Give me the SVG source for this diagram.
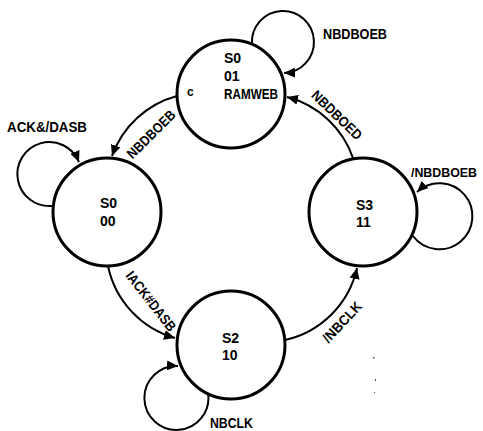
<svg xmlns="http://www.w3.org/2000/svg" width="483" height="431" viewBox="0 0 483 431">
<style>
.st{fill:#fff;stroke:#000;stroke-width:3}
.cn{fill:none;stroke:#000;stroke-width:2}
text{font-family:"Liberation Sans",Arial,sans-serif;font-weight:bold;font-size:14px;fill:#000}
.sm{font-size:12px}
</style>
<defs>
<marker id="ah" markerUnits="userSpaceOnUse" markerWidth="12" markerHeight="10" refX="11" refY="5" orient="auto">
<path d="M0,0 L11,5 L0,10 z" fill="#000"/>
</marker>
</defs>
<rect width="483" height="431" fill="#fff"/>
<g id="connectors">
<path class="cn" d="M252,44 A31,31 0 1 1 284,73" marker-end="url(#ah)"/>
<path class="cn" d="M52,206 A32,32 0 1 1 79,162" marker-end="url(#ah)"/>
<path class="cn" d="M413,236 A33,33 0 1 0 417,192" marker-end="url(#ah)"/>
<path class="cn" d="M208,393 A32,32 0 1 1 178,366" marker-end="url(#ah)"/>
<path class="cn" d="M177,96 A95,95 0 0 0 112,156" marker-end="url(#ah)"/>
<path class="cn" d="M108,266 A95,95 0 0 0 175,338" marker-end="url(#ah)"/>
<path class="cn" d="M285,340 A95,95 0 0 0 357,268" marker-end="url(#ah)"/>
<path class="cn" d="M353,158 A95,95 0 0 0 287,97" marker-end="url(#ah)"/>
<text x="323" y="39" textLength="64" lengthAdjust="spacingAndGlyphs">NBDBOEB</text>
<text x="7" y="132" textLength="80" lengthAdjust="spacingAndGlyphs">ACK&amp;/DASB</text>
<text x="411" y="177" style="font-size:13px" textLength="66" lengthAdjust="spacingAndGlyphs">/NBDBOEB</text>
<text x="210" y="428" textLength="43" lengthAdjust="spacingAndGlyphs">NBCLK</text>
<text transform="translate(151,134) rotate(-45)" x="0" y="5" text-anchor="middle" textLength="62" lengthAdjust="spacingAndGlyphs">NBDBOEB</text>
<text transform="translate(151,301) rotate(52)" x="0" y="5" text-anchor="middle" textLength="72" lengthAdjust="spacingAndGlyphs">IACK#DASB</text>
<text transform="translate(342,322) rotate(-47)" x="0" y="5" text-anchor="middle" textLength="50" lengthAdjust="spacingAndGlyphs">/NBCLK</text>
<text transform="translate(337,115) rotate(44)" x="0" y="5" text-anchor="middle" textLength="64" lengthAdjust="spacingAndGlyphs">NBDBOED</text>
</g>
<g id="s0_01">
<circle class="st" cx="231" cy="94" r="54"/>
<text x="224" y="63">S0</text>
<text x="224" y="81">01</text>
<text x="224" y="99" textLength="54" lengthAdjust="spacingAndGlyphs">RAMWEB</text>
<text class="sm" x="187" y="96">c</text>
</g>
<g id="s0_00">
<circle class="st" cx="107" cy="212" r="54"/>
<text x="100" y="208">S0</text>
<text x="100" y="226">00</text>
</g>
<g id="s3_11">
<circle class="st" cx="363" cy="212" r="54"/>
<text x="356" y="210">S3</text>
<text x="356" y="227">11</text>
</g>
<g id="s2_10">
<circle class="st" cx="231" cy="345" r="54"/>
<text x="222" y="343">S2</text>
<text x="222" y="360">10</text>
</g>
<g id="specks" fill="#555">
<rect x="373" y="357" width="1.5" height="1.5"/>
<rect x="375" y="379" width="1" height="2"/>
<rect x="374" y="392" width="1" height="1"/>
</g>
</svg>
